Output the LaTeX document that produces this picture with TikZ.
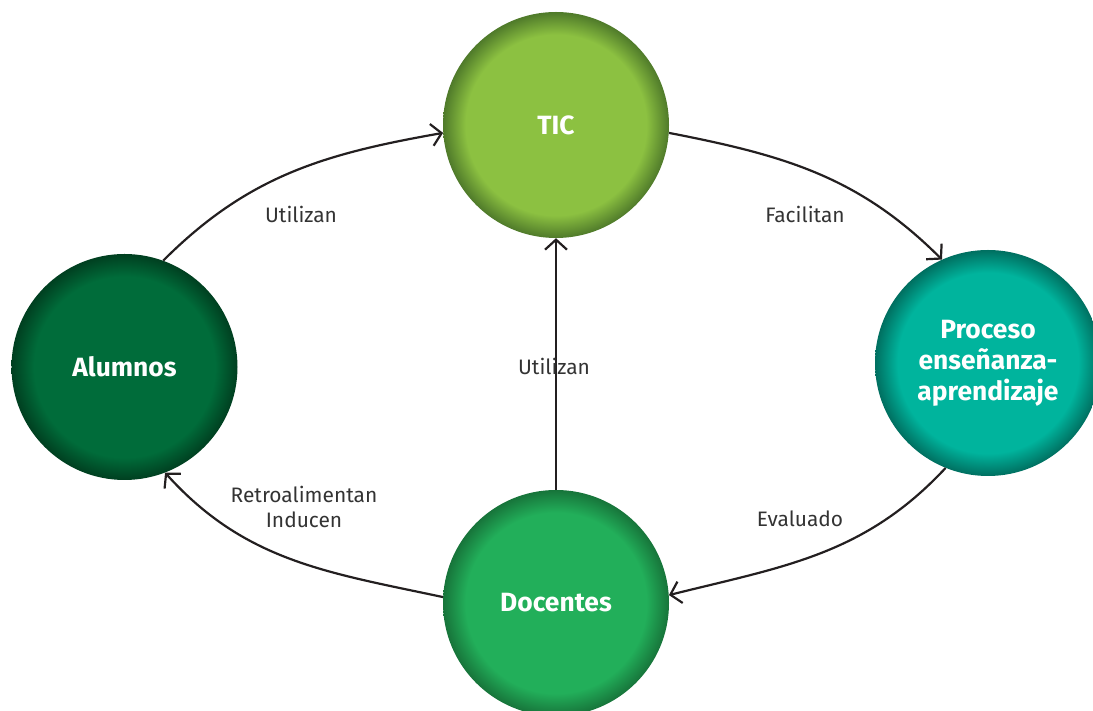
\documentclass[tikz,border=0pt]{standalone}
\usepackage{fontspec}
\setmainfont{Fira Sans}
\usetikzlibrary{arrows.meta}
\definecolor{ticc}{HTML}{8CC141}
\definecolor{ticd}{HTML}{4F7A2A}
\definecolor{alumc}{HTML}{006C3A}
\definecolor{alumd}{HTML}{003F20}
\definecolor{procc}{HTML}{00B49D}
\definecolor{procd}{HTML}{006F60}
\definecolor{docc}{HTML}{22AF5A}
\definecolor{docd}{HTML}{17743A}
\definecolor{labc}{HTML}{333333}
\definecolor{linec}{HTML}{231F20}
\pgfdeclareradialshading{ticsh}{\pgfpointorigin}{color(0bp)=(ticc); color(20bp)=(ticc); color(25bp)=(ticd); color(50bp)=(ticd)}
\pgfdeclareradialshading{alumsh}{\pgfpointorigin}{color(0bp)=(alumc); color(20bp)=(alumc); color(25bp)=(alumd); color(50bp)=(alumd)}
\pgfdeclareradialshading{procsh}{\pgfpointorigin}{color(0bp)=(procc); color(20bp)=(procc); color(25bp)=(procd); color(50bp)=(procd)}
\pgfdeclareradialshading{docsh}{\pgfpointorigin}{color(0bp)=(docc); color(20bp)=(docc); color(25bp)=(docd); color(50bp)=(docd)}
\begin{document}
\begin{tikzpicture}[x=1bp,y=1bp,
  circ/.style={circle, minimum size=226bp, inner sep=0pt, text=white, align=center,
    font=\bfseries\fontsize{26.5}{31}\selectfont},
  lab/.style={text=labc, align=center, font=\fontsize{21}{25}\selectfont},
  conn/.style={draw=linec, line width=2.2bp, -{Straight Barb[length=10bp,width=22bp,line width=2.2bp]}}]
\clip (0,0) rectangle (1093,711);
\node[circ, shading=ticsh] (tic) at (556,586) {TIC};
\node[circ, shading=alumsh] (alum) at (124.5,344) {Alumnos};
\node[circ, shading=procsh] (proc) at (988,348) {Proceso\\enseñanza-\\aprendizaje};
\node[circ, shading=docsh] (doc) at (556,108) {Docentes};
\draw[conn] (alum.70) to[out=45,in=190] (tic.184);
\draw[conn] (tic.356) to[out=-11,in=135] (proc.114);
\draw[conn] (proc.248) to[out=227,in=14] (doc.4);
\draw[conn] (doc.177) to[out=168,in=-48] (alum.291);
\draw[conn] (doc.north) -- (tic.south);
\node[lab] (l1) at (301,497) {Utilizan};
\node[lab] (l2) at (805,497) {Facilitan};
\node[lab] (l3) at (554,345) {Utilizan};
\node[lab] (l4) at (304,204) {Retroalimentan\\Inducen};
\node[lab] (l5) at (800,192) {Evaluado};
\end{tikzpicture}
\end{document}
